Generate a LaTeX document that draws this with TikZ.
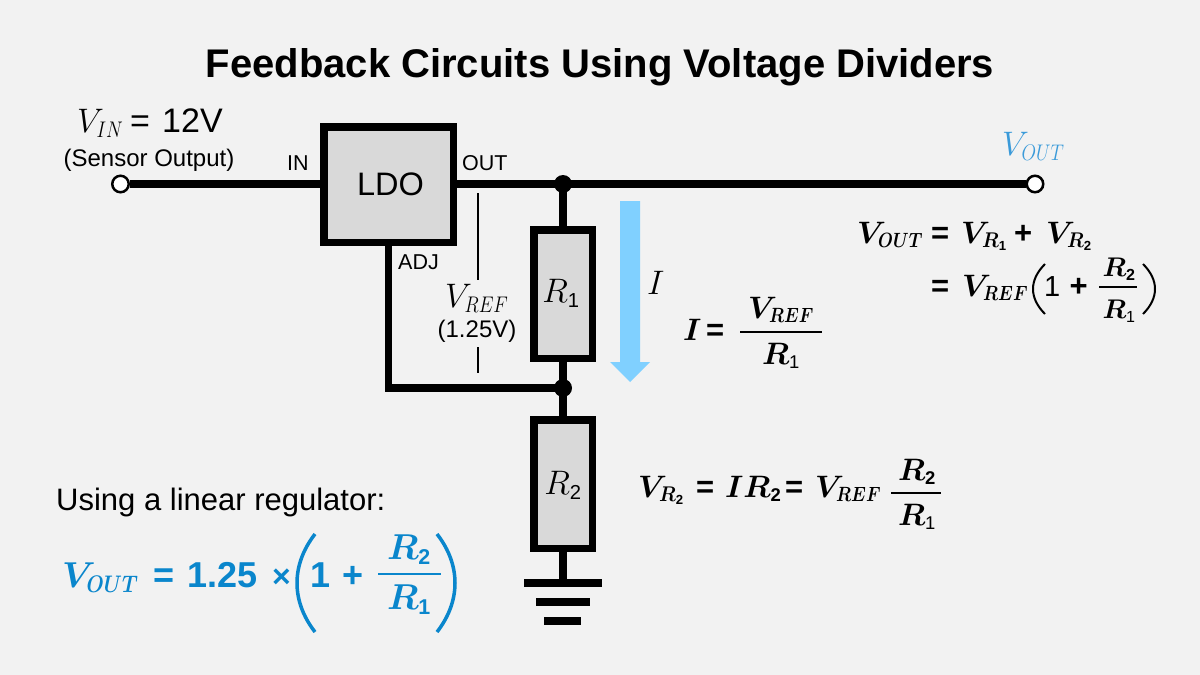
\documentclass[tikz,border=0pt]{standalone}
\usepackage{fix-cm}
\usepackage{amsmath}
\usepackage{fontspec}
\setmainfont{Liberation Sans}
\definecolor{bgc}{HTML}{F2F2F2}
\definecolor{boxc}{HTML}{D9D9D9}
\definecolor{bluetxt}{HTML}{0A86CC}
\definecolor{bluepin}{HTML}{3A9AD9}
\definecolor{arrowc}{HTML}{80D0FF}
\newcommand{\fsz}[1]{\fontsize{#1}{#1}\selectfont}
\newcommand{\bsub}[1]{\text{\normalfont\scalebox{.85}{#1}}}
\newcommand{\bbsub}[1]{\text{\normalfont\bfseries\scalebox{.85}{#1}}}
\newcommand{\nsub}[1]{\text{\normalfont\scalebox{.85}{#1}}}
\newcommand{\lsub}[1]{\scalebox{.79}[.95]{$\scriptstyle #1$}}
\newcommand{\rsub}[1]{\scalebox{.88}[.98]{$\scriptstyle #1$}}
\tikzset{
  wire/.style={line width=7.5pt,draw=black},
  thinwire/.style={line width=1.8pt,draw=black},
  pin/.style={circle,draw=black,fill=white,line width=2.5pt,minimum size=16.5pt,inner sep=0pt},
  dotn/.style={circle,fill=black,minimum size=18pt,inner sep=0pt},
  ldobox/.style={rectangle,draw=black,fill=boxc,line width=7.5pt,minimum width=129.5pt,minimum height=115.5pt,inner sep=0pt,font=\fsz{32.5}},
  resbox/.style={rectangle,draw=black,fill=boxc,line width=7.5pt,minimum width=58.5pt,minimum height=128.5pt,inner sep=0pt},
  reslbl/.style={inner sep=0pt,anchor=base,font=\fsz{34}},
  lbl/.style={inner sep=0pt,anchor=base west},
  lblc/.style={inner sep=0pt,anchor=base},
  pinlbl/.style={lbl,font=\fsz{21.5}},
  sub/.style={lblc,font=\fsz{24}},
  eqn/.style={lbl,font=\fsz{31}\boldmath\bfseries},
  eqc/.style={lblc,font=\fsz{31}\boldmath\bfseries},
  eqblue/.style={lbl,font=\fsz{36}\boldmath\bfseries,text=bluetxt},
  eqbluec/.style={lblc,font=\fsz{36}\boldmath\bfseries,text=bluetxt},
  fracbar/.style={line width=2.5pt,draw=black},
  gndbar/.style={line width=7.8pt,draw=black},
}
\begin{document}
\begin{tikzpicture}[x=1pt,y=-1pt]
\useasboundingbox (0,0) rectangle (1200,675);
\fill[bgc] (0,0) rectangle (1200,675);
% title
\node[lblc,font=\fsz{40}\bfseries] (title) at (600,77.5) {Feedback Circuits Using Voltage Dividers};
% current arrow
\fill[arrowc] (620,201) -- (640,201) -- (640,362) -- (650,362) -- (630,382) -- (610,362) -- (620,362) -- cycle;
% components
\node[ldobox] (ldo) at (388.5,184.5) {\hspace{4pt}LDO};
\node[resbox] (r1) at (563,294) {};
\node[resbox] (r2) at (563,484) {};
\node[reslbl] (r1l) at (561,302) {$R_{\nsub{1}}$};
\node[reslbl] (r2l) at (563,494) {$R_{\nsub{2}}$};
\node[pin] (vin) at (120.5,184) {};
\node[pin] (vout) at (1035,184) {};
\node[dotn] (j1) at (563,184) {};
\node[dotn] (j2) at (563,388) {};
\coordinate (g1) at (563,583);
\coordinate (g1l) at (524,583);
\coordinate (g1r) at (602,583);
\coordinate (g2l) at (536,602);
\coordinate (g2r) at (590,602);
\coordinate (g3l) at (544,621);
\coordinate (g3r) at (581,621);
% wires
\draw[wire] (vin.east) -- (ldo.west |- vin.east);
\draw[wire] (ldo.east |- j1.center) -- (j1.center) -- (vout.west);
\draw[wire] (j1.center) -- (r1.north);
\draw[wire] (r1.south) -- (j2.center) -- (r2.north);
\draw[wire] (ldo.south) |- (j2.center);
\draw[wire] (r2.south) -- (g1);
\draw[gndbar] (g1l) -- (g1r);
\draw[gndbar] (g2l) -- (g2r);
\draw[gndbar] (g3l) -- (g3r);
% labels
\node[lbl,font=\fsz{34}] (vinlbl) at (77,132) {$V_{\lsub{IN}}$};
\node[lbl,font=\fsz{34}] (vineq) at (130,132) {=};
\node[lbl,font=\fsz{34}] (vinval) at (162,132) {12V};
\node[lblc,font=\fsz{24}] (sensor) at (149,166) {(Sensor Output)};
\node[pinlbl] (inl) at (287,170) {IN};
\node[pinlbl] (outl) at (462,170) {OUT};
\node[pinlbl] (adjl) at (398,269) {ADJ};
\node[lbl,text=bluepin,font=\fsz{34}] (voutl) at (1002,155) {$V_{\lsub{OUT}}$};
\node[lbl,font=\fsz{34}] (vrefl) at (445,307) {$V_{\lsub{REF}}$};
\node[sub] (vrefv) at (477,337) {(1.25V)};
\coordinate (t1a) at (478,193);
\coordinate (t1b) at (478,280);
\coordinate (t2a) at (478,347);
\coordinate (t2b) at (478,373);
\draw[thinwire] (t1a) -- (t1b);
\draw[thinwire] (t2a) -- (t2b);
\node[lbl,font=\fsz{34}] (il) at (647,294) {$I$};
% I = VREF/R1
\node[eqn] (e1a) at (683,340) {$I$};
\node[eqn] (e1b) at (706,340) {=};
\node[eqc] (e1c) at (781,318) {$V_{\lsub{REF}}$};
\node[eqc] (e1d) at (781,364) {$R_{\bsub{1}}$};
\coordinate (b1a) at (740,332);
\coordinate (b1b) at (822,332);
\draw[fracbar] (b1a) -- (b1b);
% VOUT = VR1 + VR2
\node[eqn] (e2a) at (857,243) {$V_{\lsub{OUT}}$};
\node[eqn] (e2b) at (931,243) {=};
\node[eqn] (e2c) at (961,243) {$V_{\rsub{R}_{\bbsub{1}}}$};
\node[eqn] (e2d) at (1014,243) {+};
\node[eqn] (e2e) at (1046,243) {$V_{\rsub{R}_{\bbsub{2}}}$};
\node[eqn] (e3a) at (931,296) {=};
\node[eqn] (e3b) at (962,296) {$V_{\lsub{REF}}$};
\node[lbl,font=\fsz{29}] (e3c) at (1044,296) {1};
\node[eqn] (e3d) at (1069.5,296) {+};
\node[eqc,font=\fsz{27}\boldmath\bfseries] (e3e) at (1119,276) {$R_{\bbsub{2}}$};
\node[eqc,font=\fsz{27}\boldmath\bfseries] (e3f) at (1119,318) {$R_{\bsub{1}}$};
\coordinate (b2a) at (1099,287);
\coordinate (b2b) at (1137,287);
\draw[fracbar,line width=2pt] (b2a) -- (b2b);
\draw[line width=2pt,draw=black] (1045,264) .. controls (1029,280) and (1029,298) .. (1045,314);
\draw[line width=2pt,draw=black] (1143,264) .. controls (1159,280) and (1159,298) .. (1143,314);
% VR2 line
\node[eqn] (e4a) at (638,497) {$V_{\rsub{R}_{\bbsub{2}}}$};
\node[eqn] (e4b) at (696,497) {=};
\node[eqn] (e4c) at (725,497) {$IR_{\bbsub{2}}$};
\node[eqn] (e4d) at (785,497) {=};
\node[eqn] (e4e) at (815,497) {$V_{\lsub{REF}}$};
\node[eqc] (e4f) at (917,480) {$R_{\bbsub{2}}$};
\node[eqc] (e4g) at (917,525) {$R_{\bsub{1}}$};
\coordinate (b3a) at (891,493);
\coordinate (b3b) at (941,493);
\draw[fracbar] (b3a) -- (b3b);
% bottom-left
\node[lbl,font=\fsz{31}] (using) at (56,510) {Using a linear regulator:};
\node[eqblue] (e5a) at (62,587) {$V_{\lsub{OUT}}$};
\node[eqblue] (e5b) at (153,587) {=};
\node[eqblue] (e5c) at (187,587) {1.25};
\node[eqblue,font=\fsz{32}\bfseries] (e5d) at (272,587) {×};
\node[eqblue] (e5e) at (310,587) {1};
\node[eqblue] (e5f) at (342,587) {+};
\node[eqbluec] (e5g) at (409,559) {$R_{\bbsub{2}}$};
\node[eqbluec] (e5h) at (409,609) {$R_{\bbsub{1}}$};
\coordinate (b4a) at (378,574);
\coordinate (b4b) at (441,574);
\draw[line width=2pt,draw=bluetxt] (b4a) -- (b4b);
\draw[line width=3.5pt,draw=bluetxt] (315,534) .. controls (291,565) and (291,601) .. (315,632);
\draw[line width=3.5pt,draw=bluetxt] (437,534) .. controls (461,565) and (461,601) .. (437,632);
\end{tikzpicture}
\end{document}
